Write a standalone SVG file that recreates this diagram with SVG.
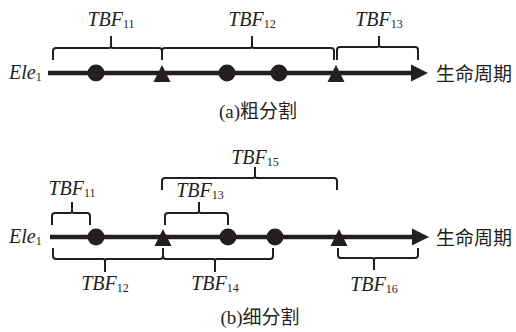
<svg xmlns="http://www.w3.org/2000/svg" width="516" height="332" viewBox="0 0 516 332">
<style>
.axis{stroke:#231f20;stroke-width:4.5;fill:none}
.brace{stroke:#231f20;stroke-width:2;fill:none}
.mk{fill:#231f20}
.lbl{font-family:'Liberation Serif','DejaVu Serif',serif;font-style:italic;font-size:20px;fill:#231f20}
.sub{font-style:normal;font-size:12px}
.cn{font-family:'Liberation Serif','Noto Sans CJK SC',serif;font-size:19px;fill:#231f20}
.cjk{font-family:'Noto Sans CJK SC',sans-serif;font-size:19px;fill:#231f20}
</style>
<rect width="516" height="332" fill="#fff"/>
<g id="connectors">
<line class="axis" x1="48" y1="73" x2="413" y2="73"/>
<polygon class="mk" points="411,64.5 428,73 411,81.5"/>
<line class="axis" x1="50" y1="237" x2="414" y2="237"/>
<polygon class="mk" points="412,228.5 429,237 412,245.5"/>
<path class="brace" d="M53 60 V51 Q53 48 56 48 H109 Q111 48 111 46 V36 M111 46 Q111 48 113 48 H159 Q162 48 162 51 V60"/>
<path class="brace" d="M162 60 V51 Q162 48 165 48 H250 Q252 48 252 46 V36 M252 46 Q252 48 254 48 H331 Q334 48 334 51 V60"/>
<path class="brace" d="M337 60 V50 Q337 47 340 47 H377 Q379 47 379 45 V36 M379 45 Q379 47 381 47 H415 Q418 47 418 50 V60"/>
<path class="brace" d="M52 225 V216 Q52 213 55 213 H70 Q72 213 72 211 V202 M72 211 Q72 213 74 213 H87 Q90 213 90 216 V225"/>
<path class="brace" d="M165 225 V216 Q165 213 168 213 H197 Q199 213 199 211 V202 M199 211 Q199 213 201 213 H225 Q228 213 228 216 V225"/>
<path class="brace" d="M162 190 V181 Q162 178 165 178 H253 Q255 178 255 176 V167 M255 176 Q255 178 257 178 H334 Q337 178 337 181 V190"/>
<path class="brace" d="M53 248 V256 Q53 259 56 259 H103 Q105 259 105 261 V272 M105 261 Q105 259 107 259 H160 Q163 259 163 256 V248"/>
<path class="brace" d="M163 248 V256 Q163 259 166 259 H213 Q215 259 215 261 V272 M215 261 Q215 259 217 259 H270 Q273 259 273 256 V248"/>
<path class="brace" d="M338 248 V255 Q338 258 341 258 H372 Q374 258 374 260 V270 M374 260 Q374 258 376 258 H415 Q418 258 418 255 V248"/>
</g>
<g id="top-events">
<circle class="mk" cx="96" cy="73" r="8.5"/>
<polygon class="mk" points="162,65 153.5,82 170.5,82"/>
<circle class="mk" cx="227" cy="73" r="8.5"/>
<circle class="mk" cx="279" cy="73" r="8.5"/>
<polygon class="mk" points="336,65 327.5,82 344.5,82"/>
</g>
<g id="bottom-events">
<circle class="mk" cx="96" cy="237" r="8.5"/>
<polygon class="mk" points="163,229 154.5,246 171.5,246"/>
<circle class="mk" cx="228" cy="237" r="8.5"/>
<circle class="mk" cx="275" cy="237" r="8.5"/>
<polygon class="mk" points="339,229 330.5,246 347.5,246"/>
</g>
<g id="top-labels">
<text class="lbl" x="9" y="79">Ele<tspan class="sub" dy="2">1</tspan></text>
<text class="cjk" x="436" y="81">生命周期</text>
<text class="lbl" x="111" y="26" text-anchor="middle">TBF<tspan class="sub" dy="2">11</tspan></text>
<text class="lbl" x="252" y="26" text-anchor="middle">TBF<tspan class="sub" dy="2">12</tspan></text>
<text class="lbl" x="379" y="26" text-anchor="middle">TBF<tspan class="sub" dy="2">13</tspan></text>
<text class="cn" x="258" y="118" text-anchor="middle">(a)粗分割</text>
</g>
<g id="bottom-labels">
<text class="lbl" x="9" y="243">Ele<tspan class="sub" dy="2">1</tspan></text>
<text class="cjk" x="436" y="245">生命周期</text>
<text class="lbl" x="72" y="195" text-anchor="middle">TBF<tspan class="sub" dy="2">11</tspan></text>
<text class="lbl" x="200" y="197" text-anchor="middle">TBF<tspan class="sub" dy="2">13</tspan></text>
<text class="lbl" x="255" y="164" text-anchor="middle">TBF<tspan class="sub" dy="2">15</tspan></text>
<text class="lbl" x="105" y="290" text-anchor="middle">TBF<tspan class="sub" dy="2">12</tspan></text>
<text class="lbl" x="215" y="290" text-anchor="middle">TBF<tspan class="sub" dy="2">14</tspan></text>
<text class="lbl" x="374" y="291" text-anchor="middle">TBF<tspan class="sub" dy="2">16</tspan></text>
<text class="cn" x="260" y="324" text-anchor="middle">(b)细分割</text>
</g>
</svg>
